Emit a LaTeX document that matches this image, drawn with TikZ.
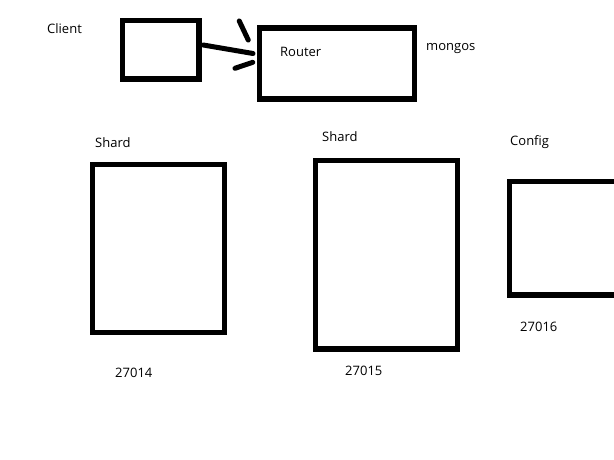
\documentclass[tikz,border=0pt]{standalone}
\usepackage{fontspec}
\setmainfont{Open Sans}
\usepackage{tikz}

\tikzset{
  box/.style={draw, rectangle, line width=5.5pt, inner sep=0pt},
  lbl/.style={anchor=west, inner sep=0pt, font=\fontsize{13}{15}\selectfont},
  pen/.style={line width=5pt, line cap=round}
}

\begin{document}
\begin{tikzpicture}[x=1pt, y=-1pt]
            \useasboundingbox (0,0) rectangle (614,460);
            \clip (0,0) rectangle (614,460);
            % boxes
            \node[box, minimum width=76.5pt, minimum height=58.5pt] (client) at (160.75,49.75) {};
            \node[box, minimum width=155pt, minimum height=71pt] (router) at (337,63.5) {};
            \node[box, minimum width=132pt, minimum height=168pt] (shardA) at (158.5,248.5) {};
            \node[box, minimum width=142pt, minimum height=188.5pt] (shardB) at (386.5,254.75) {};
            \node[box, minimum width=110.5pt, minimum height=113.5pt] (config) at (564.75,238.25) {};
            % labels
            \node[lbl] (clientlbl) at (47,29) {Client};
            \node[lbl] (routerlbl) at (280,52) {Router};
            \node[lbl] (mongoslbl) at (426,49) {mongos};
            \node[lbl] (shardAlbl) at (95,143) {Shard};
            \node[lbl] (shardBlbl) at (322,137) {Shard};
            \node[lbl] (configlbl) at (510,142) {Config};
            \node[lbl] (portA) at (115,373) {27014};
            \node[lbl] (portB) at (345,371) {27015};
            \node[lbl] (portC) at (520,327) {27016};
            % client to router, hand drawn head
            \coordinate (tip) at ([xshift=-3.75pt, yshift=10pt]router.west);
            \draw[pen] ([xshift=1.5pt, yshift=4.75pt]client.east) -- (tip);
            \draw[pen] ([xshift=-17.5pt, yshift=42.5pt]router.west) -- ([xshift=-8.5pt, yshift=23.5pt]router.west)
                       ([xshift=-21.75pt, yshift=-4.8pt]router.west) -- ([xshift=-4pt, yshift=1.2pt]router.west);
        \end{tikzpicture}
\end{document}
